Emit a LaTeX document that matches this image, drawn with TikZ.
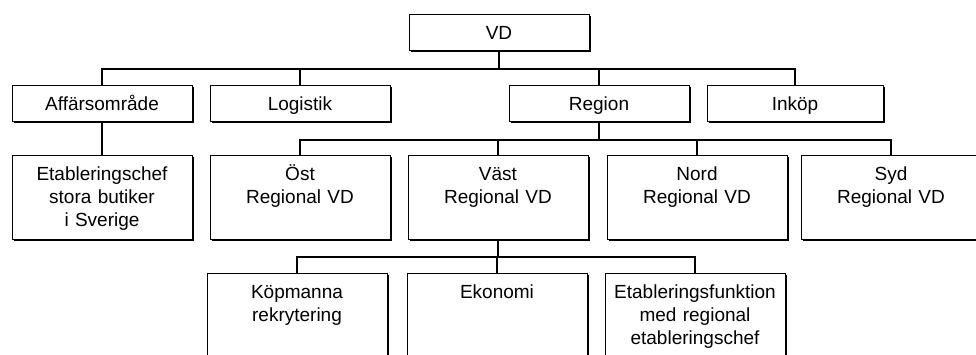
\documentclass[tikz,border=0pt]{standalone}
\usepackage{fontspec}
\setmainfont{Liberation Sans}
\usepackage{tikz}
\usetikzlibrary{shadows}

\tikzset{
  unit/.style={draw=black, line width=0.9pt, fill=white, anchor=north,
    minimum width=180pt, text width=176pt, align=center,
    inner xsep=2pt, inner ysep=0pt, text height=25pt,
    font=\fontsize{19}{23}\selectfont,
    drop shadow={shadow xshift=1.8pt, shadow yshift=-1.8pt, fill=black, opacity=1}},
  flat/.style={unit, text depth=11pt},
  tall/.style={unit, text depth=59pt},
  deep/.style={unit, text depth=100pt},
  link/.style={draw=black, line width=1.3pt}
}

\begin{document}
\begin{tikzpicture}[x=1pt, y=-1pt]
    \useasboundingbox (0,0) rectangle (976,354);
    \clip (0,0) rectangle (976,354);
    % bus levels
    \coordinate (topbus) at (0,69);
    \coordinate (regbus) at (0,140);
    \coordinate (vastbus) at (0,257);

    \node[flat] (vd) at (499,14) {VD};
    \node[flat] (aff) at (102,85) {Affärsområde};
    \node[flat] (logistik) at (300,85) {Logistik};
    \node[flat] (region) at (599,85) {Region};
    \node[flat, minimum width=176pt, text width=172pt] (inkop) at (795,85) {Inköp};

    \node[tall] (etab) at (102,155) {Etableringschef\\stora butiker\\i Sverige};
    \node[tall] (ost) at (300,155) {Öst\\Regional VD};
    \node[tall] (vast) at (498,155) {Väst\\Regional VD};
    \node[tall] (nord) at (697,155) {Nord\\Regional VD};
    \node[tall] (syd) at (891,155) {Syd\\Regional VD};

    \node[deep] (kop) at (297,273) {Köpmanna\\rekrytering};
    \node[deep] (ekonomi) at (497,273) {Ekonomi};
    \node[deep] (etabfunk) at (695,273) {Etableringsfunktion\\med regional\\etableringschef};

    \foreach \c in {aff,logistik,region,inkop}
        \draw[link] (vd.south) -- (vd.south |- topbus) -| (\c.north);
    \draw[link] (aff.south) -- (etab.north);
    \foreach \c in {ost,vast,nord,syd}
        \draw[link] (region.south) -- (region.south |- regbus) -| (\c.north);
    \foreach \c in {kop,ekonomi,etabfunk}
        \draw[link] (vast.south) -- (vast.south |- vastbus) -| (\c.north);
\end{tikzpicture}
\end{document}
